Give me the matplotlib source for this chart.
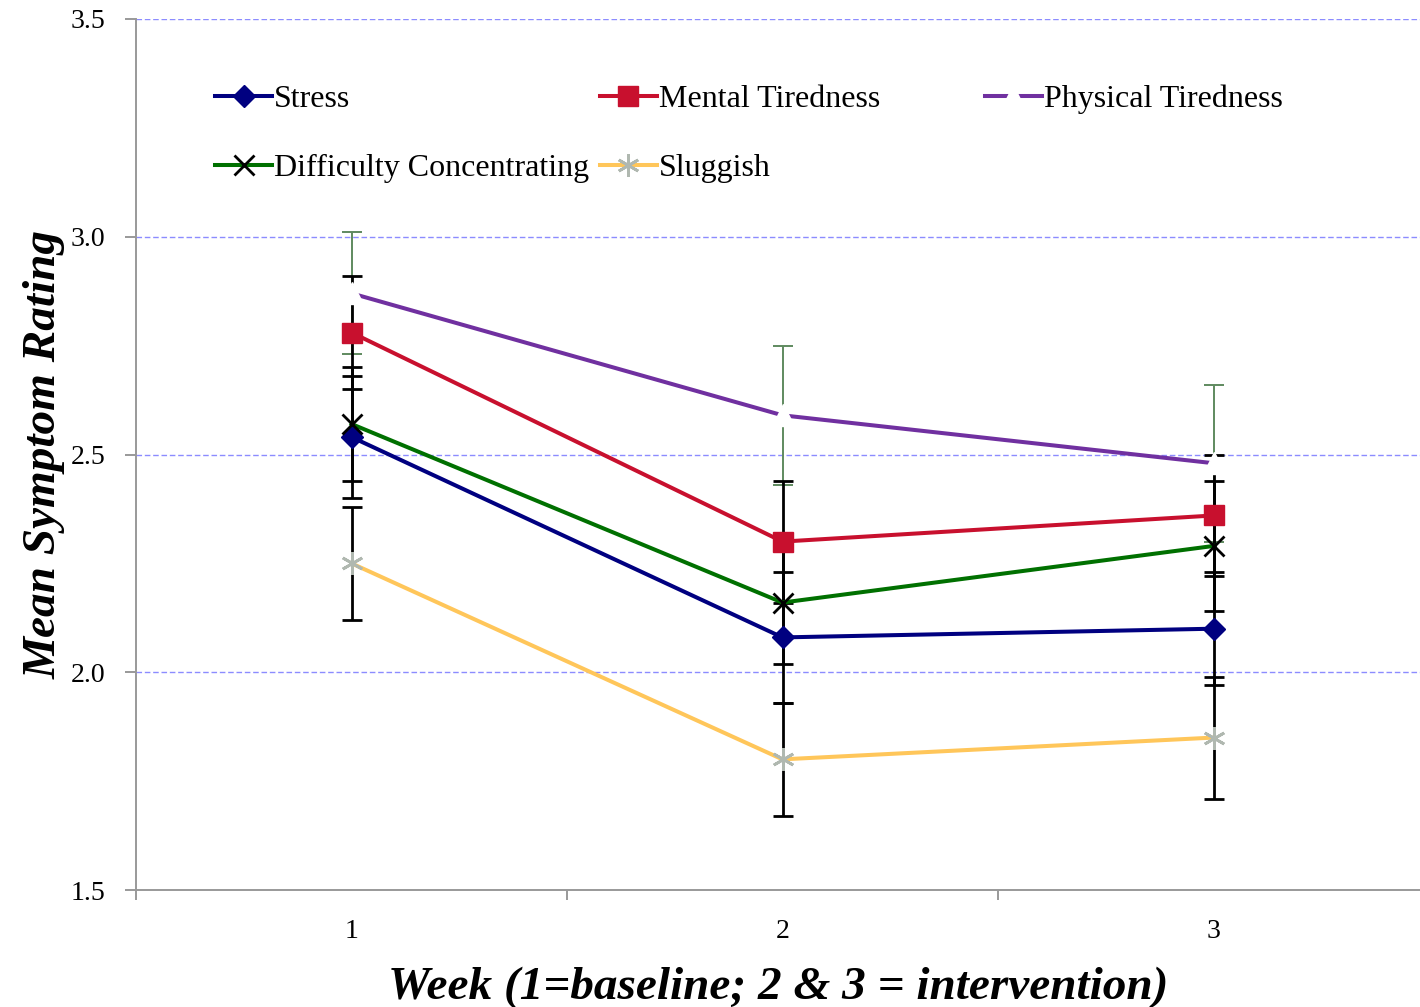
import matplotlib.pyplot as plt

# mean symptom ratings per week (1 = baseline, 2 & 3 = intervention)
weeks = [1, 2, 3]
stress = [2.54, 2.08, 2.10]
stress_err = [0.14, 0.15, 0.13]
mental = [2.78, 2.30, 2.36]
mental_err = [0.13, 0.14, 0.14]
physical = [2.87, 2.59, 2.48]
physical_err = [0.14, 0.16, 0.18]
difficulty = [2.57, 2.16, 2.29]
difficulty_err = [0.13, 0.14, 0.15]
sluggish = [2.25, 1.80, 1.85]
sluggish_err = [0.13, 0.13, 0.14]

y_ticks = [1.5, 2.0, 2.5, 3.0, 3.5]

plt.rcParams['font.family'] = ['Liberation Serif', 'DejaVu Serif']

fig = plt.figure(figsize=(14.2, 10.07), dpi=100)
ax = fig.add_axes([136 / 1420, 1 - 890 / 1007, 1284 / 1420, 871 / 1007])

# error bars first so the lines and markers sit on top
err_kw = dict(fmt='none', capsize=7.5, zorder=2)
ax.errorbar(weeks, physical, yerr=physical_err, ecolor='#5f8a5f', elinewidth=1.4, capthick=1.4, **err_kw)
ax.errorbar(weeks, stress, yerr=stress_err, ecolor='black', elinewidth=2, capthick=2, **err_kw)
ax.errorbar(weeks, mental, yerr=mental_err, ecolor='black', elinewidth=2, capthick=2, **err_kw)
ax.errorbar(weeks, difficulty, yerr=difficulty_err, ecolor='black', elinewidth=2, capthick=2, **err_kw)
ax.errorbar(weeks, sluggish, yerr=sluggish_err, ecolor='black', elinewidth=2, capthick=2, **err_kw)

lw = 2.9
l_stress, = ax.plot(weeks, stress, color='#000080', lw=lw, marker='D', ms=11,
                    mfc='#000080', mec='#000080', zorder=4, label='Stress')
l_mental, = ax.plot(weeks, mental, color='#C8102E', lw=lw, marker='s', ms=14,
                    mfc='#C8102E', mec='#C8102E', zorder=4, label='Mental Tiredness')
l_phys, = ax.plot(weeks, physical, color='#7030A0', lw=lw, marker='^', ms=16,
                  mfc='white', mec='white', zorder=4, label='Physical Tiredness')
l_diff, = ax.plot(weeks, difficulty, color='#007000', lw=lw, marker='x', ms=15,
                  mec='black', mew=2, zorder=4, label='Difficulty Concentrating')
l_slug, = ax.plot(weeks, sluggish, color='#FFC65A', lw=lw, marker=(6, 2, 0), ms=16,
                  mec='#B0B8B0', mew=2, zorder=4, label='Sluggish')

# axes styling
ax.set_xlim(0.5, 0.5 + 1284 / 431)
ax.set_ylim(1.5, 3.5)
ax.set_yticks(y_ticks)
ax.set_yticklabels([f'{t:.1f}' for t in y_ticks])
ax.set_xticks(weeks)
ax.set_xticks([0.5, 1.5, 2.5], minor=True)
ax.tick_params(axis='x', which='major', length=0, pad=21, labelsize=20)
ax.tick_params(axis='x', which='minor', length=7, color='#888888', width=1.2)
ax.tick_params(axis='y', length=8, color='#888888', width=1.2, pad=14, labelsize=20)
for side in ['top', 'right']:
    ax.spines[side].set_visible(False)
for side in ['left', 'bottom']:
    ax.spines[side].set_color('#999999')
    ax.spines[side].set_linewidth(1.4)
ax.yaxis.grid(True, linestyle='--', color='#8c8cff', linewidth=1.0, dashes=(4, 2))
ax.set_axisbelow(True)

ax.set_ylabel('Mean Symptom Rating', fontsize=34, fontweight='bold', style='italic', labelpad=4)
ax.set_xlabel('Week (1=baseline; 2 & 3 = intervention)', fontsize=34, fontweight='bold',
              style='italic', labelpad=16)

# legend laid out as three separate columns
leg_kw = dict(loc='upper left', frameon=False, fontsize=23, handlelength=1.8,
              handletextpad=0.05, borderpad=0, borderaxespad=0, labelspacing=1.25, numpoints=1)
leg1 = ax.legend(handles=[l_stress, l_diff], bbox_to_anchor=(0.0615, 0.925), **leg_kw)
ax.add_artist(leg1)
leg2 = ax.legend(handles=[l_mental, l_slug], bbox_to_anchor=(0.361, 0.925), **leg_kw)
ax.add_artist(leg2)
ax.legend(handles=[l_phys], bbox_to_anchor=(0.661, 0.925), **leg_kw)

fig.savefig('out.png', dpi=100)
